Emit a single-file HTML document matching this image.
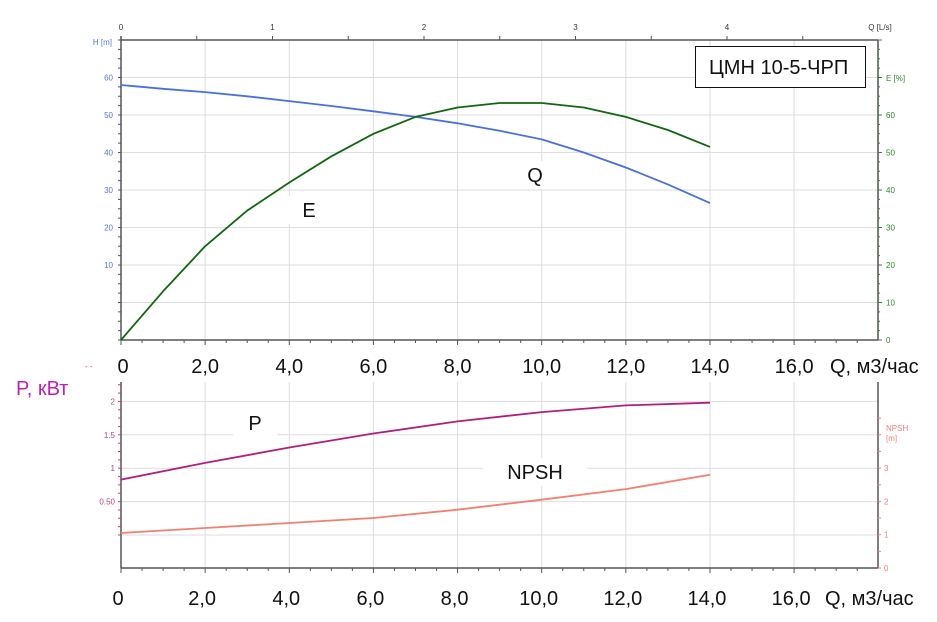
<!DOCTYPE html>
<html><head><meta charset="utf-8"><style>
body{margin:0;background:#fff;}
svg{display:block;font-family:"Liberation Sans",Arial,sans-serif;}
</style></head><body>
<svg id="c" width="937" height="622" viewBox="0 0 937 622"></svg>
<script>
const qValues=[0,1,2,3,4,5,6,7,8,9,10,11,12,13,14];
const headValues=[58,57,56.1,55,53.7,52.4,51,49.5,47.8,45.8,43.5,40,36,31.5,26.5];
const effValues=[0,13,25,34.5,42,49,55,59.5,62,63.2,63.2,62,59.5,56,51.5];
const qLow=[0,2,4,6,8,10,12,14];
const powerValues=[0.83,1.08,1.31,1.52,1.7,1.84,1.94,1.98];
const npshValues=[1.05,1.2,1.35,1.5,1.75,2.05,2.37,2.8];
const qTickLabels=["0","2,0","4,0","6,0","8,0","10,0","12,0","14,0","16,0"];
const lsTickLabels=["0","1","2","3","4"];
const hTicks=[10,20,30,40,50,60];
const eTicks=[0,10,20,30,40,50,60];
const pTicks=[0.5,1,1.5,2];
const pTickLabels=["0.50","1","1.5","2"];
const nTicks=[0,1,2,3];

const NS="http://www.w3.org/2000/svg";
const svg=document.getElementById('c');
function el(t,a,txt,p){const e=document.createElementNS(NS,t);for(const k in a)e.setAttribute(k,a[k]);if(txt!==undefined)e.textContent=txt;(p||svg).appendChild(e);return e;}
const L=121,R=878;
const xQ=q=>L+q*42.07;
const xLs=v=>L+v*151.5;
const yH=h=>302.5-h*3.75;
const yE=e=>340-e*3.75;
const yP=p=>535-p*66.8;
const yN=n=>568-n*33.3;

// top gridlines
for(let i=1;i<=9;i++){const g=el('line',{x1:xQ(i*2),x2:xQ(i*2),y1:40,y2:340,stroke:'#ddd'});}
[0].concat(hTicks).forEach(h=>{const g=el('line',{x1:L,x2:R,y1:yH(h),y2:yH(h),stroke:'#ddd'});});
// bottom gridlines
for(let i=1;i<=8;i++){const g=el('line',{x1:xQ(i*2),x2:xQ(i*2),y1:382,y2:568,stroke:'#ddd'});}
[0,0.5,1,1.5,2].forEach(p=>{const g=el('line',{x1:L,x2:R,y1:yP(p),y2:yP(p),stroke:'#ddd'});});

// axes top
const ax=el('g',{stroke:'#555','stroke-width':1.5});
el('line',{x1:L,x2:R,y1:40,y2:40},undefined,ax);
el('line',{x1:L,x2:L,y1:36,y2:340},undefined,ax);
el('line',{x1:R,x2:R,y1:40,y2:340},undefined,ax);
el('line',{x1:L,x2:R,y1:340,y2:340},undefined,ax);
el('line',{x1:L,x2:L,y1:382,y2:568},undefined,ax);
el('line',{x1:R,x2:R,y1:382,y2:568},undefined,ax);
el('line',{x1:L,x2:R,y1:568,y2:568},undefined,ax);
for(let v=0;v<=4.5;v+=0.5){el('line',{x1:xLs(v),x2:xLs(v),y1:36,y2:40,'stroke-width':1},undefined,ax);}
for(let q=0;q<=18;q+=0.5){const x=xQ(q);if(x>R)break;const big=q%2==0;el('line',{x1:x,x2:x,y1:340,y2:big?345:343,'stroke-width':1},undefined,ax);el('line',{x1:x,x2:x,y1:568,y2:big?573:571,'stroke-width':1},undefined,ax);}
for(let h=-10;h<=70;h+=2.5){el('line',{x1:L-3,x2:L,y1:yH(h),y2:yH(h),'stroke-width':1},undefined,ax);}
for(let e=0;e<=80;e+=2.5){if(yE(e)<40)break;el('line',{x1:R,x2:R+(e%10==0?4:2),y1:yE(e),y2:yE(e),'stroke-width':1,stroke:'#2a8a2a'},undefined,ax);}
for(let p=0;p<=2.25;p+=0.125){el('line',{x1:L-3,x2:L,y1:yP(p),y2:yP(p),'stroke-width':1,stroke:'#c04080'},undefined,ax);}
for(let n=0;n<=4.5;n+=0.5){if(yN(n)<382)break;el('line',{x1:R,x2:R+3,y1:yN(n),y2:yN(n),'stroke-width':1,stroke:'#f08080'},undefined,ax);}

// tick labels
lsTickLabels.forEach((t,i)=>{const e=el('text',{x:xLs(i),y:30,'font-size':8,'text-anchor':'middle',fill:'#333'},t);});
let t=el('text',{x:880,y:30,'font-size':8,'text-anchor':'middle',fill:'#333'},'Q [L/s]');
t=el('text',{x:112,y:45,'font-size':8,'text-anchor':'end',fill:'#5577dd'},'H [m]');
hTicks.forEach(h=>{const e=el('text',{x:113,y:yH(h)+3,'font-size':8,'text-anchor':'end',fill:'#5577dd'},String(h));});
t=el('text',{x:886,y:81,'font-size':8,fill:'#2a8a2a'},'E [%]');
eTicks.forEach(e=>{const x=el('text',{x:886,y:yE(e)+3,'font-size':8,fill:'#2a8a2a'},String(e));});
pTicks.forEach((p,i)=>{const x=el('text',{x:115,y:yP(p)+3,'font-size':8,'text-anchor':'end',fill:'#c04080'},pTickLabels[i]);});
nTicks.forEach(n=>{const x=el('text',{x:884,y:yN(n)+3,'font-size':8,fill:'#f08080'},String(n));});
t=el('text',{x:886,y:431,'font-size':8,fill:'#f08080'},'NPSH');
t=el('text',{x:886,y:441,'font-size':8,fill:'#f08080'},'[m]');
qTickLabels.forEach((s,i)=>{const a=el('text',{x:xQ(i*2)+(i==0?2:0),y:373,'font-size':20,'text-anchor':'middle',fill:'#111'},s);
const b=el('text',{x:xQ(i*2)-3,y:605,'font-size':20,'text-anchor':'middle',fill:'#111'},s);});
t=el('text',{x:830,y:373,'font-size':20,fill:'#111'},'Q, м3/час');
t=el('text',{x:825,y:605,'font-size':20,fill:'#111'},'Q, м3/час');
t=el('text',{x:16,y:395,'font-size':20,fill:'#c020b0'},'P, кВт');
t=el('text',{x:85,y:369,'font-size':8,fill:'#c04080'},'- -');

// curves
function path(xs,ys,fx,fy,color,name,w){let d='';xs.forEach((q,i)=>{d+=(i?'L':'M')+fx(q).toFixed(1)+','+fy(ys[i]).toFixed(1);});const p=el('path',{d:d,fill:'none',stroke:color,'stroke-width':w||1.8,'stroke-linejoin':'round'});}
path(qValues,headValues,xQ,yH,'#4a70dd','head-curve');
path(qValues,effValues,xQ,yE,'#126612','efficiency-curve');
path(qLow,powerValues,xQ,yP,'#b0207a','power-curve');
path(qLow,npshValues,xQ,yN,'#f08070','npsh-curve');

// curve labels
function lab(x,y,w,s,name){const r=el('rect',{x:x-w/2,y:y-14,width:w,height:28,fill:'#fff'});const e=el('text',{x:x,y:y+7,'font-size':20,'text-anchor':'middle',fill:'#111'},s);}
lab(309,210,42,'E','label-e');
lab(535,175,42,'Q','label-q');
lab(255,423,44,'P','label-p');
lab(535,472,104,'NPSH','label-npsh');

// model box
let r=el('rect',{x:695.5,y:46.5,width:170,height:41,fill:'#fff',stroke:'#111'});
t=el('text',{x:709,y:74,'font-size':20,fill:'#111'},'ЦМН 10-5-ЧРП');
</script>
</body></html>
